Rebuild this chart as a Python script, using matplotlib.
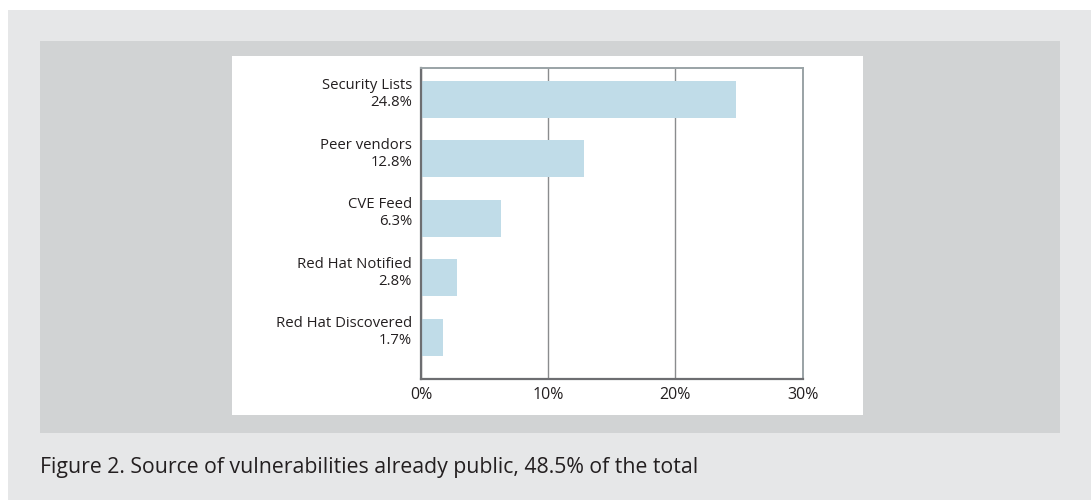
import matplotlib
matplotlib.use("Agg")
import matplotlib.pyplot as plt
import matplotlib.transforms as mtransforms
from matplotlib.patches import Rectangle

# vulnerability sources, share of total
sources = ["Security Lists", "Peer vendors", "CVE Feed", "Red Hat Notified", "Red Hat Discovered"]
shares = [24.8, 12.8, 6.3, 2.8, 1.7]
x_ticks = [0, 10, 20, 30]
caption = "Figure 2. Source of vulnerabilities already public, 48.5% of the total"

W, H = 1091, 500
plt.rcParams["font.family"] = ["Open Sans", "DejaVu Sans"]
text_color = "#231f20"

fig = plt.figure(figsize=(W / 100, H / 100), dpi=100, facecolor="white")


def box(x0, y0, x1, y1, color):
    # pixel box (top-left origin) -> figure fraction rectangle
    fig.patches.append(Rectangle((x0 / W, 1 - y1 / H), (x1 - x0) / W, (y1 - y0) / H,
                                 transform=fig.transFigure, facecolor=color,
                                 edgecolor="none", zorder=-10))


box(8, 10, W, H, "#e6e7e8")
box(40, 41, 1060, 433, "#d1d3d4")
box(232, 56, 863, 415, "#ffffff")

ax_l, ax_r, ax_t, ax_b = 421, 802.5, 67.5, 379
ax = fig.add_axes([ax_l / W, 1 - ax_b / H, (ax_r - ax_l) / W, (ax_b - ax_t) / H])
ax.set_facecolor("white")

pos = list(range(len(sources)))
ax.barh(pos, shares, height=0.62, color="#c0dce8", zorder=2)
ax.set_ylim(4.70, -0.536)
ax.set_xlim(0, 30)

# category labels sit a little above the bar centre
ax.set_yticks([])
lab_tr = mtransforms.blended_transform_factory(ax.transAxes, ax.transData) + \
    mtransforms.ScaledTranslation(-9 / 100, 5 / 100, fig.dpi_scale_trans)
for p, s, v in zip(pos, sources, shares):
    ax.text(0, p, f"{s}\n{v}%", transform=lab_tr, ha="right", va="center",
            ma="right", fontsize=10.7, color=text_color, linespacing=1.17)

ax.set_xticks(x_ticks)
ax.set_xticklabels([f"{t}%" for t in x_ticks], fontsize=11.5, color=text_color)
ax.tick_params(axis="both", length=0)
ax.tick_params(axis="x", pad=6)

ax.grid(axis="x", color="#8a8c8e", linewidth=1, zorder=1)
for side in ["left", "bottom"]:
    ax.spines[side].set_color("#6d6e71")
    ax.spines[side].set_linewidth(1.6)
for side in ["top", "right"]:
    ax.spines[side].set_color("#9aa3a6")
    ax.spines[side].set_linewidth(1.4)

fig.text(40 / W, 1 - 468 / H, caption, fontsize=15.3, color=text_color,
         ha="left", va="center")

fig.savefig("out.png", dpi=100, facecolor=fig.get_facecolor())
